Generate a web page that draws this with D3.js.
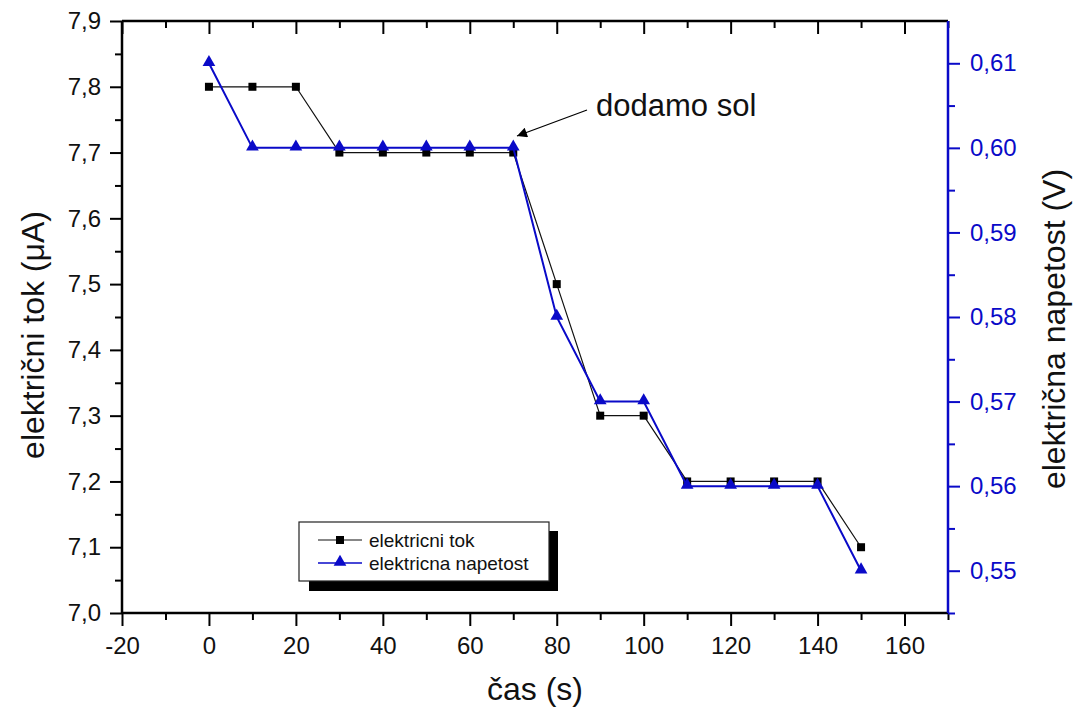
<!DOCTYPE html>
<html>
<head>
<meta charset="utf-8">
<script src="https://cdn.jsdelivr.net/npm/d3@7"></script>
<style>
  body { margin: 0; background: #fff; }
  text { font-family: Arial, "Liberation Sans", sans-serif; }
</style>
</head>
<body>
<div id="chart"></div>
<script>
var times = [0, 10, 20, 30, 40, 50, 60, 70, 80, 90, 100, 110, 120, 130, 140, 150]
var tok = [7.8, 7.8, 7.8, 7.7, 7.7, 7.7, 7.7, 7.7, 7.5, 7.3, 7.3, 7.2, 7.2, 7.2, 7.2, 7.1]
var napetost = [0.61, 0.60, 0.60, 0.60, 0.60, 0.60, 0.60, 0.60, 0.58, 0.57, 0.57, 0.56, 0.56, 0.56, 0.56, 0.55]
var xTicks = [-20, 0, 20, 40, 60, 80, 100, 120, 140, 160]
var leftTicks = [7.0, 7.1, 7.2, 7.3, 7.4, 7.5, 7.6, 7.7, 7.8, 7.9]
var rightTicks = [0.55, 0.56, 0.57, 0.58, 0.59, 0.60, 0.61]
var legendLabels = ["elektricni tok", "elektricna napetost"]

var W = 1073, H = 713
var BLUE = "#0a0ac8"
var pLeft = 122, pRight = 948, pTop = 21, pBottom = 613

var svg = d3.select("#chart").append("svg").attr("width", W).attr("height", H)

var x = d3.scaleLinear().domain([-20, 170]).range([pLeft, pRight])
var yL = d3.scaleLinear().domain([7.0, 7.9]).range([pBottom, pTop])
var yR = d3.scaleLinear().domain([0.545, 0.615]).range([pBottom, pTop])

function comma(f) { return function(d){ return d3.format(f)(d).replace(".", ",") } }

// minor ticks
var xMinor = d3.range(-10, 171, 20)
var lMinor = d3.range(7.05, 7.9, 0.1)
var rMinor = d3.range(0.545, 0.615, 0.01)

var g = svg.append("g")

function minor(sel, axis) {
  sel.append("g").attr("class", "minor").call(axis)
}

// bottom axis
var bx = g.append("g").attr("transform", "translate(0," + pBottom + ")")
  .call(d3.axisBottom(x).tickValues(xTicks).tickFormat(function(d){ return d }).tickSize(13).tickPadding(11))
minor(bx, d3.axisBottom(x).tickValues(xMinor).tickSize(7).tickFormat(""))
// top mirror axis (ticks inward)
var tx = g.append("g").attr("transform", "translate(0," + pTop + ")")
  .call(d3.axisBottom(x).tickValues(xTicks).tickSize(13).tickFormat(""))
minor(tx, d3.axisBottom(x).tickValues(xMinor).tickSize(7).tickFormat(""))

// left axis
var ly = g.append("g").attr("transform", "translate(" + pLeft + ",0)")
  .call(d3.axisLeft(yL).tickValues(leftTicks).tickFormat(comma(".1f")).tickSize(12).tickPadding(9))
minor(ly, d3.axisLeft(yL).tickValues(lMinor).tickSize(7).tickFormat(""))

// right axis
var ry = g.append("g").attr("transform", "translate(" + pRight + ",0)")
  .call(d3.axisRight(yR).tickValues(rightTicks).tickFormat(comma(".2f")).tickSize(12).tickPadding(10))
minor(ry, d3.axisRight(yR).tickValues(rMinor).tickSize(7).tickFormat(""))

g.selectAll(".minor .domain").remove()
g.selectAll(".domain").attr("stroke-width", 2.5)
bx.select(".domain").attr("d", "M" + pLeft + ",0H" + pRight)
tx.select(".domain").attr("d", "M" + pLeft + ",0H" + pRight)
ly.select(".domain").attr("d", "M0," + pBottom + "V" + pTop)
ry.select(".domain").attr("d", "M0," + pBottom + "V" + pTop)
g.selectAll(".tick line").attr("stroke-width", 2)
g.selectAll(".tick text").style("font-size", "24px").attr("fill", "#111")
ry.selectAll(".domain, .tick line").attr("stroke", BLUE)
ry.selectAll(".tick text").attr("fill", BLUE)

// series
var tokData = times.map(function(t, i){ return [t, tok[i]] })
var napData = times.map(function(t, i){ return [t, napetost[i]] })

svg.append("path").datum(tokData)
  .attr("fill", "none").attr("stroke", "#111").attr("stroke-width", 1.2)
  .attr("d", d3.line().x(function(d){ return x(d[0]) }).y(function(d){ return yL(d[1]) }))
svg.selectAll(".sq").data(tokData).enter().append("rect")
  .attr("x", function(d){ return x(d[0]) - 4 }).attr("y", function(d){ return yL(d[1]) - 4 })
  .attr("width", 8).attr("height", 8).attr("fill", "#000")

svg.append("path").datum(napData)
  .attr("fill", "none").attr("stroke", BLUE).attr("stroke-width", 2)
  .attr("d", d3.line().x(function(d){ return x(d[0]) }).y(function(d){ return yR(d[1]) }))
var tri = d3.symbol().type(d3.symbolTriangle).size(70)
svg.selectAll(".tri").data(napData).enter().append("path")
  .attr("d", tri).attr("fill", BLUE)
  .attr("transform", function(d){ return "translate(" + x(d[0]) + "," + (yR(d[1]) - 1) + ")" })

// annotation
var defs = svg.append("defs")
defs.append("marker").attr("id", "ah").attr("viewBox", "0 0 10 10").attr("refX", 10).attr("refY", 5)
  .attr("markerWidth", 14).attr("markerHeight", 10).attr("markerUnits", "userSpaceOnUse").attr("orient", "auto")
  .append("path").attr("d", "M0,0L10,5L0,10z").attr("fill", "#000")
svg.append("line").attr("x1", 587).attr("y1", 110).attr("x2", 517).attr("y2", 136)
  .attr("stroke", "#000").attr("stroke-width", 1.3).attr("marker-end", "url(#ah)")
svg.append("text").attr("x", 596).attr("y", 116).style("font-size", "31px").attr("fill", "#111").text("dodamo sol")

// axis titles
svg.append("text").attr("x", 535).attr("y", 700).attr("text-anchor", "middle")
  .style("font-size", "32px").attr("fill", "#111").text("čas (s)")
svg.append("text").attr("transform", "translate(44,335) rotate(-90)")
  .attr("text-anchor", "middle").style("font-size", "32px").attr("fill", "#111").text("električni tok (μA)")
svg.append("text").attr("transform", "translate(1065,329) rotate(-90)")
  .attr("text-anchor", "middle").style("font-size", "32px").attr("fill", "#111").text("električna napetost (V)")

// legend
var lg = svg.append("g")
lg.append("rect").attr("x", 309).attr("y", 531).attr("width", 249).attr("height", 60).attr("fill", "#000")
lg.append("rect").attr("x", 299).attr("y", 522).attr("width", 250).attr("height", 59)
  .attr("fill", "#fff").attr("stroke", "#222").attr("stroke-width", 1.2)
lg.append("line").attr("x1", 318).attr("x2", 362).attr("y1", 540).attr("y2", 540).attr("stroke", "#111").attr("stroke-width", 1.2)
lg.append("rect").attr("x", 336).attr("y", 536).attr("width", 8).attr("height", 8).attr("fill", "#000")
lg.append("line").attr("x1", 318).attr("x2", 362).attr("y1", 563).attr("y2", 563).attr("stroke", BLUE).attr("stroke-width", 1.5)
lg.append("path").attr("d", tri).attr("fill", BLUE).attr("transform", "translate(340,562)")
lg.selectAll(".lt").data(legendLabels).enter().append("text")
  .attr("x", 369).attr("y", function(d, i){ return 547 + i * 23 })
  .style("font-size", "19px").attr("fill", "#111").text(function(d){ return d })
</script>
</body>
</html>
